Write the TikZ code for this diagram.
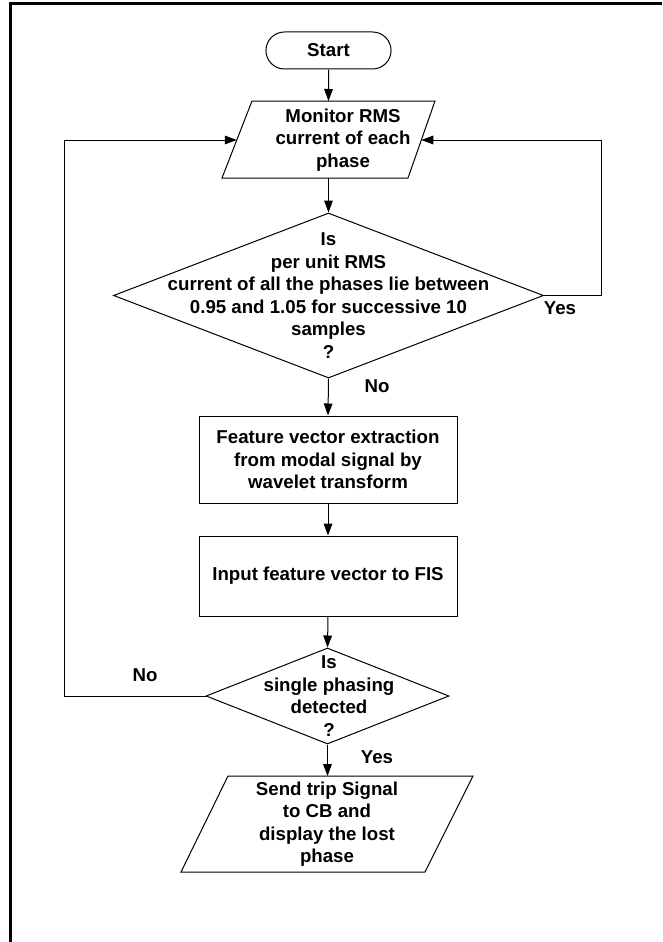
\documentclass[tikz,border=0pt]{standalone}
\usepackage{fontspec}
\setmainfont{Liberation Sans}
\usetikzlibrary{shapes.geometric,shapes.misc,arrows.meta}
\begin{document}
\begin{tikzpicture}[x=0.75pt,y=-0.75pt,
  every node/.style={font=\fontsize{14}{16.9}\selectfont\bfseries},
  shp/.style={draw,line width=0.75pt},
  txt/.style={align=center,inner sep=0pt},
  arr/.style={line width=0.75pt,-{Triangle[length=9pt,width=6.5pt]}},
  lnk/.style={line width=0.75pt}]
\useasboundingbox (0,0) rectangle (662,942);
% frame
\coordinate (fbl) at (10.5,942);
\coordinate (ftl) at (10.5,3.5);
\coordinate (ftr) at (662,3.5);
\draw[line width=1.7pt] (fbl) -- (ftl) -- (ftr);
% start
\node[shp, rounded rectangle, minimum width=100.5pt, minimum height=27.75pt] (start) at (328.5,50.5) {Start};
% monitor parallelogram
\coordinate (p1tl) at (252,101);
\coordinate (p1tr) at (435,101);
\coordinate (p1br) at (408,178);
\coordinate (p1bl) at (222,178);
\draw[shp] (p1tl) -- (p1tr) -- (p1br) -- (p1bl) -- cycle;
\node[txt] (mon) at (343,140) {Monitor RMS\\current of each\\phase};
\coordinate (p1top) at (328.5,101);
\coordinate (p1bot) at (328.5,178);
\coordinate (p1L) at (236.8,140);
\coordinate (p1R) at (421.3,140);
\draw[arr] (start) -- (p1top);
% diamond 1
\node[shp, diamond, minimum width=322.5pt, minimum height=123.75pt, inner sep=0pt] (d1) at (328.5,295.5) {};
\node[txt] (d1t) at (d1) {Is\\per unit RMS\\current of all the phases lie between\\0.95 and 1.05 for successive 10\\samples\\?};
\draw[arr] (p1bot) -- (d1.north);
% box 1
\node[shp, align=center, inner sep=0pt, minimum width=193.5pt, minimum height=65.25pt] (b1) at (328,459.5) {Feature vector extraction\\from modal signal by\\wavelet transform};
\draw[arr] (d1.south) -- (b1.north);
% box 2
\node[shp, align=center, inner sep=0pt, minimum width=193.5pt, minimum height=60pt] (b2) at (328,576) {Input feature vector to FIS};
\draw[arr] (b1) -- (b2);
% diamond 2
\node[shp, diamond, minimum width=182.25pt, minimum height=72pt, inner sep=0pt] (d2) at (327.5,696) {};
\node[txt] (d2t) at (329,696) {Is\\single phasing\\detected\\?};
\draw[arr] (b2.south) -- (d2.north);
% output parallelogram
\coordinate (p2tl) at (228,776);
\coordinate (p2tr) at (473,776);
\coordinate (p2br) at (425,872);
\coordinate (p2bl) at (181,872);
\draw[shp] (p2tl) -- (p2tr) -- (p2br) -- (p2bl) -- cycle;
\node[txt] (out) at (327,824) {Send trip Signal\\to CB and\\display the lost\\phase};
\coordinate (p2top) at (327.5,776);
\draw[arr] (d2.south) -- (p2top);
% loops
\coordinate (rc) at (601,140);
\coordinate (lc) at (64.6,140);
\draw[arr] (d1.east) -| (rc) -- (p1R);
\draw[arr] (d2.west) -| (lc) -- (p1L);
% labels
\node (yes1) at (560,308) {Yes};
\node (no1) at (377,386) {No};
\node (no2) at (145,675) {No};
\node (yes2) at (377,757) {Yes};
\end{tikzpicture}
\end{document}
